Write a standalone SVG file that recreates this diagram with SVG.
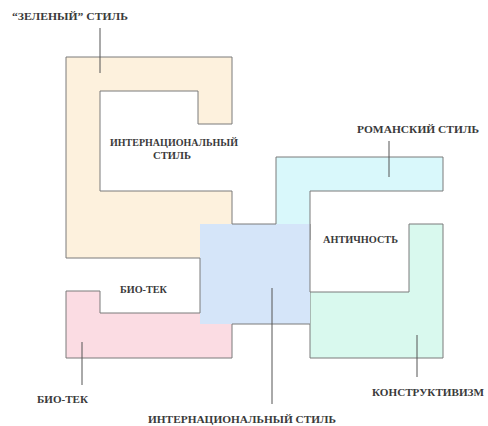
<svg xmlns="http://www.w3.org/2000/svg" width="488" height="426" viewBox="0 0 488 426">
<style>
.shape{stroke:#7a7a7a;stroke-width:1;stroke-linejoin:miter}
.edge{fill:none;stroke:#7a7a7a;stroke-width:1}
.lead{fill:none;stroke:#555;stroke-width:1}
.lbl{font-family:"Liberation Serif","Times New Roman",serif;font-size:11px;font-weight:bold;fill:#3a3a3a}
</style>
<rect width="488" height="426" fill="#ffffff"/>
<g id="green-style">
<path class="shape" fill="#fdf1dd" d="M66,57 H232 V124 H198 V91 H100 V191 H232 V258 H66 Z"/>
</g>
<g id="bio-tech">
<path class="shape" fill="#fbdce3" d="M66,291 H100 V313 H232 V358 H66 Z"/>
</g>
<g id="romanesque">
<path class="shape" fill="#d9f8fb" d="M276,157 H443 V191 H310 V240 H276 Z"/>
</g>
<g id="constructivism">
<path class="shape" fill="#d9f9ee" d="M409,224 H443 V358 H310 V292 H409 Z"/>
</g>
<g id="international">
<rect x="200" y="224" width="110" height="100" fill="#d5e5f9"/>
<path class="edge" d="M232,224 H276 M310,224 V292 M200,258 V313 M232,324 H310"/>
</g>
<g id="connectors">
<path class="lead" d="M100,28 V73"/>
<path class="lead" d="M389,141 V177"/>
<path class="lead" d="M82,342 V385"/>
<path class="lead" d="M272,288 V404"/>
<path class="lead" d="M417,335 V377"/>
</g>
<g id="labels">
<text class="lbl" x="12" y="20" textLength="116" lengthAdjust="spacingAndGlyphs">“ЗЕЛЕНЫЙ” СТИЛЬ</text>
<text class="lbl" x="110" y="146" textLength="128" lengthAdjust="spacingAndGlyphs">ИНТЕРНАЦИОНАЛЬНЫЙ</text>
<text class="lbl" x="153" y="159" textLength="38" lengthAdjust="spacingAndGlyphs">СТИЛЬ</text>
<text class="lbl" x="357" y="133" textLength="122" lengthAdjust="spacingAndGlyphs">РОМАНСКИЙ СТИЛЬ</text>
<text class="lbl" x="323" y="243" textLength="75" lengthAdjust="spacingAndGlyphs">АНТИЧНОСТЬ</text>
<text class="lbl" x="120" y="293" textLength="47" lengthAdjust="spacingAndGlyphs">БИО-ТЕК</text>
<text class="lbl" x="37" y="403" textLength="51" lengthAdjust="spacingAndGlyphs">БИО-ТЕК</text>
<text class="lbl" x="148" y="423" textLength="188" lengthAdjust="spacingAndGlyphs">ИНТЕРНАЦИОНАЛЬНЫЙ СТИЛЬ</text>
<text class="lbl" x="372" y="396" textLength="112" lengthAdjust="spacingAndGlyphs">КОНСТРУКТИВИЗМ</text>
</g>
</svg>
